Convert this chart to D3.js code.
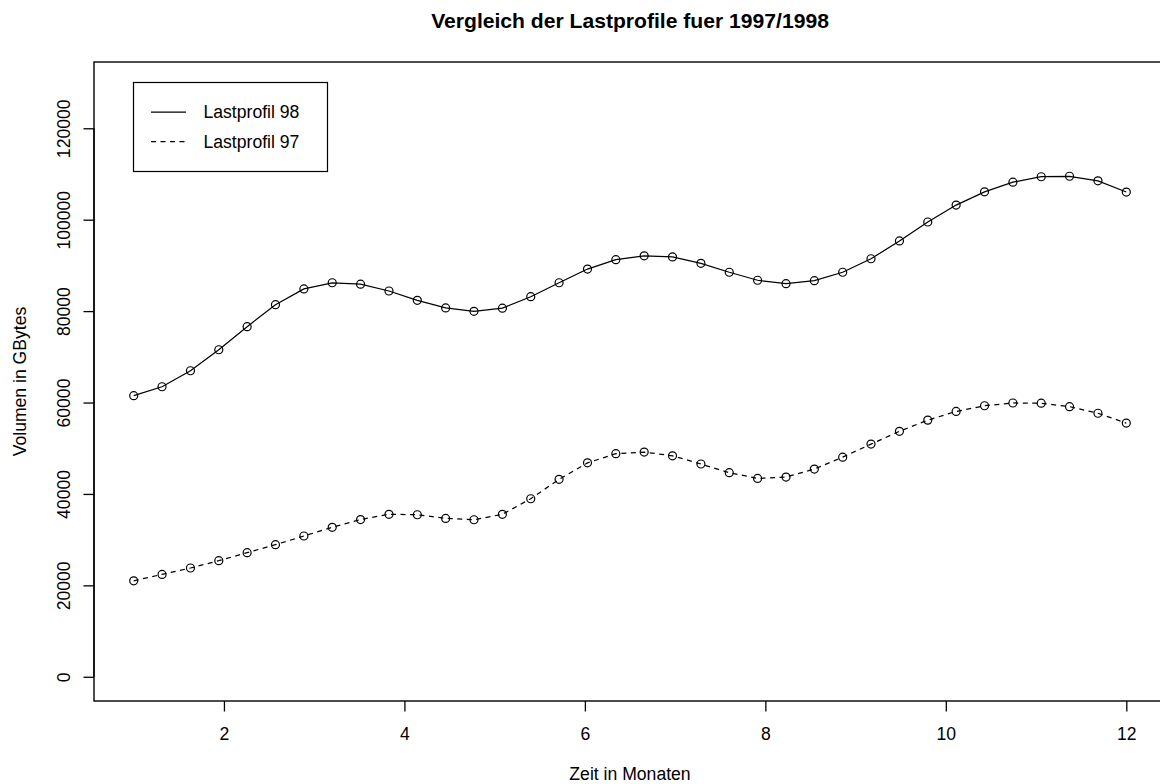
<!DOCTYPE html>
<html>
<head>
<meta charset="utf-8">
<script src="https://cdn.jsdelivr.net/npm/d3@7"></script>
<style>
  html, body { margin: 0; padding: 0; background: #fff; }
  svg { display: block; }
  text { font-family: "Liberation Sans", Arial, Helvetica, sans-serif; fill: #000; }
</style>
</head>
<body>
<svg id="chart" width="1160" height="784"></svg>
<script>
// Zeitpunkte (Monate)
const months = [
  1.000, 1.314, 1.629, 1.943, 2.257, 2.571, 2.886, 3.200, 3.514, 3.829,
  4.143, 4.457, 4.771, 5.086, 5.400, 5.714, 6.029, 6.343, 6.657, 6.971,
  7.286, 7.600, 7.914, 8.229, 8.543, 8.857, 9.171, 9.486, 9.800, 10.114,
  10.429, 10.743, 11.057, 11.371, 11.686, 12.000
];

// Lastprofil 1998 (GBytes)
const profile98 = [
  61500, 63450, 66950, 71550, 76600, 81400, 84850, 86200, 85900, 84400,
  82350, 80700, 79950, 80650, 83150, 86200, 89200, 91250, 92100, 91850,
  90450, 88500, 86750, 86000, 86650, 88500, 91450, 95350, 99500, 103200,
  106100, 108200, 109400, 109500, 108500, 106050
];

// Lastprofil 1997 (GBytes)
const profile97 = [
  21000, 22400, 23800, 25400, 27150, 28900, 30800, 32700, 34400, 35550,
  35450, 34650, 34350, 35550, 38950, 43200, 46800, 48800, 49150, 48350,
  46550, 44650, 43400, 43700, 45450, 48050, 50900, 53700, 56150, 58050,
  59300, 59900, 59850, 59100, 57650, 55500
];

const xTicks = [2, 4, 6, 8, 10, 12];
const yTicks = [0, 20000, 40000, 60000, 80000, 100000, 120000];

const titleText = "Vergleich der Lastprofile fuer 1997/1998";
const xLabel = "Zeit in Monaten";
const yLabel = "Volumen in GBytes";
const legendLabels = ["Lastprofil 98", "Lastprofil 97"];

// Plotbereich
const plot = { left: 94, right: 1166, top: 62, bottom: 701 };
const fontSize = 17.6;

const svg = d3.select("#chart");

const x = d3.scaleLinear().domain([0.56, 12.44]).range([plot.left, plot.right]);
const y = d3.scaleLinear().domain([-5300, 134500]).range([plot.bottom, plot.top]);

// Rahmen
svg.append("rect")
  .attr("x", plot.left).attr("y", plot.top)
  .attr("width", plot.right - plot.left).attr("height", plot.bottom - plot.top)
  .attr("fill", "none").attr("stroke", "#000").attr("stroke-width", 1.4);

// x-Achse
const xAxis = d3.axisBottom(x).tickValues(xTicks).tickSize(10.5).tickPadding(10)
  .tickFormat(d3.format("d"));
const gx = svg.append("g").attr("transform", `translate(0,${plot.bottom})`).call(xAxis);
gx.select(".domain").remove();
gx.selectAll(".tick line").attr("stroke", "#000").attr("stroke-width", 1.3);
gx.selectAll(".tick text")
  .attr("font-size", fontSize)
  .attr("font-family", "Liberation Sans, Arial, sans-serif")
  .attr("dy", null).attr("y", 39).attr("fill", "#000");

// y-Achse
const yAxis = d3.axisLeft(y).tickValues(yTicks).tickSize(10.5).tickFormat(d3.format("d"));
const gy = svg.append("g").attr("transform", `translate(${plot.left},0)`).call(yAxis);
gy.select(".domain").remove();
gy.append("line")
  .attr("x1", 0).attr("x2", 0)
  .attr("y1", y(yTicks[0])).attr("y2", y(yTicks[yTicks.length - 1]))
  .attr("stroke", "#000").attr("stroke-width", 1.3);
gy.selectAll(".tick line").attr("stroke", "#000").attr("stroke-width", 1.3);
gy.selectAll(".tick text")
  .attr("font-size", fontSize)
  .attr("font-family", "Liberation Sans, Arial, sans-serif")
  .attr("fill", "#000")
  .attr("x", null).attr("dy", null)
  .attr("text-anchor", "middle")
  .attr("transform", "translate(-24,0) rotate(-90)");

// Titel und Achsenbeschriftungen
svg.append("text")
  .attr("x", (plot.left + plot.right) / 2).attr("y", 28)
  .attr("text-anchor", "middle")
  .attr("font-size", fontSize * 1.2).attr("font-weight", "bold")
  .text(titleText);

svg.append("text")
  .attr("x", (plot.left + plot.right) / 2).attr("y", 779.5)
  .attr("text-anchor", "middle")
  .attr("font-size", fontSize)
  .text(xLabel);

svg.append("text")
  .attr("transform", `translate(25.5,${(plot.top + plot.bottom) / 2}) rotate(-90)`)
  .attr("text-anchor", "middle")
  .attr("font-size", fontSize)
  .text(yLabel);

// Linien mit Punkten
const series = [
  { values: profile98, dash: null },
  { values: profile97, dash: "5,4.5" }
];

const line = d3.line()
  .x((d, i) => x(months[i]))
  .y(d => y(d));

series.forEach(s => {
  svg.append("path")
    .datum(s.values)
    .attr("d", line)
    .attr("fill", "none")
    .attr("stroke", "#000")
    .attr("stroke-width", 1.25)
    .attr("stroke-dasharray", s.dash);

  svg.append("g")
    .selectAll("circle")
    .data(s.values)
    .join("circle")
    .attr("cx", (d, i) => x(months[i]))
    .attr("cy", d => y(d))
    .attr("r", 4)
    .attr("fill", "none")
    .attr("stroke", "#000")
    .attr("stroke-width", 1.2);
});

// Legende
const legend = svg.append("g");
legend.append("rect")
  .attr("x", 133.5).attr("y", 82.5)
  .attr("width", 194).attr("height", 89)
  .attr("fill", "#fff").attr("stroke", "#000").attr("stroke-width", 1.2);

series.forEach((s, i) => {
  const ly = 112 + i * 29.7;
  legend.append("line")
    .attr("x1", 151).attr("x2", 186)
    .attr("y1", ly).attr("y2", ly)
    .attr("stroke", "#000").attr("stroke-width", 1.25)
    .attr("stroke-dasharray", s.dash);
  legend.append("text")
    .attr("x", 203.5).attr("y", ly)
    .attr("dy", "0.35em")
    .attr("font-size", fontSize)
    .text(legendLabels[i]);
});
</script>
</body>
</html>
